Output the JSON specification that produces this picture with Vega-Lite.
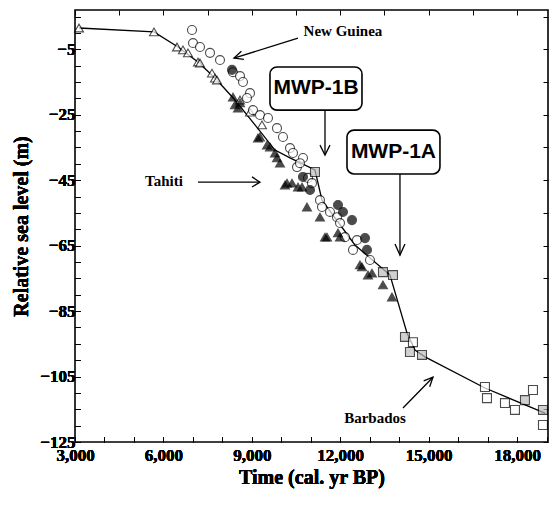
{
  "$schema": "https://vega.github.io/schema/vega-lite/v6.json",
  "width": 473,
  "height": 432,
  "autosize": {"type": "none"},
  "padding": {"left": 75, "top": 10, "right": 2, "bottom": 64},
  "background": "white",
  "config": {
    "view": {"stroke": "black", "strokeWidth": 1.6},
    "axis": {
      "labelFont": "Liberation Serif", "labelFontWeight": "bold", "labelFontSize": 17, "labelColor": "black",
      "titleFont": "Liberation Serif", "titleFontWeight": "bold", "titleFontSize": 20, "titleColor": "black",
      "domain": false, "grid": false, "tickColor": "black", "tickWidth": 1
    }
  },
  "datasets": {
    "pts": [
      {"t": 3136, "v": 1.5, "s": "open-tri"},
      {"t": 5680, "v": 0.3, "s": "open-tri"},
      {"t": 6461, "v": -4.3, "s": "open-tri"},
      {"t": 6664, "v": -5.2, "s": "open-tri"},
      {"t": 6834, "v": -6.1, "s": "open-tri"},
      {"t": 7173, "v": -8.9, "s": "open-tri"},
      {"t": 7241, "v": -9.2, "s": "open-tri"},
      {"t": 7648, "v": -12.3, "s": "open-tri"},
      {"t": 7750, "v": -13.8, "s": "open-tri"},
      {"t": 7818, "v": -14.4, "s": "open-tri"},
      {"t": 8599, "v": -20.5, "s": "open-tri"},
      {"t": 8938, "v": -24.2, "s": "open-tri"},
      {"t": 9345, "v": -28.1, "s": "open-tri"},
      {"t": 6970, "v": 0.9, "s": "open-circ"},
      {"t": 7004, "v": -3.1, "s": "open-circ"},
      {"t": 7241, "v": -4.3, "s": "open-circ"},
      {"t": 7581, "v": -6.1, "s": "open-circ"},
      {"t": 7920, "v": -8.3, "s": "open-circ"},
      {"t": 8361, "v": -12.0, "s": "open-circ"},
      {"t": 8599, "v": -13.2, "s": "open-circ"},
      {"t": 8700, "v": -15.0, "s": "open-circ"},
      {"t": 8938, "v": -18.4, "s": "open-circ"},
      {"t": 8836, "v": -19.9, "s": "open-circ"},
      {"t": 9040, "v": -23.6, "s": "open-circ"},
      {"t": 9277, "v": -25.1, "s": "open-circ"},
      {"t": 9549, "v": -26.0, "s": "open-circ"},
      {"t": 9854, "v": -29.1, "s": "open-circ"},
      {"t": 10057, "v": -31.8, "s": "open-circ"},
      {"t": 10295, "v": -35.2, "s": "open-circ"},
      {"t": 10397, "v": -36.7, "s": "open-circ"},
      {"t": 10533, "v": -41.0, "s": "open-circ"},
      {"t": 10736, "v": -38.2, "s": "open-circ"},
      {"t": 10634, "v": -39.8, "s": "open-circ"},
      {"t": 10906, "v": -44.3, "s": "open-circ"},
      {"t": 11041, "v": -45.9, "s": "open-circ"},
      {"t": 11313, "v": -51.1, "s": "open-circ"},
      {"t": 11381, "v": -53.2, "s": "open-circ"},
      {"t": 11652, "v": -54.7, "s": "open-circ"},
      {"t": 11890, "v": -56.3, "s": "open-circ"},
      {"t": 11992, "v": -58.1, "s": "open-circ"},
      {"t": 12161, "v": -62.4, "s": "open-circ"},
      {"t": 12433, "v": -66.3, "s": "open-circ"},
      {"t": 12568, "v": -63.3, "s": "open-circ"},
      {"t": 13009, "v": -69.4, "s": "open-circ"},
      {"t": 8327, "v": -11.3, "s": "fill-circ"},
      {"t": 10736, "v": -44.0, "s": "fill-circ"},
      {"t": 10974, "v": -48.0, "s": "fill-circ"},
      {"t": 11924, "v": -52.6, "s": "fill-circ"},
      {"t": 12093, "v": -54.7, "s": "fill-circ"},
      {"t": 12399, "v": -57.2, "s": "fill-circ"},
      {"t": 12840, "v": -62.7, "s": "fill-circ"},
      {"t": 12908, "v": -66.3, "s": "fill-circ"},
      {"t": 8361, "v": -19.6, "s": "fill-tri"},
      {"t": 8599, "v": -21.4, "s": "fill-tri"},
      {"t": 8429, "v": -22.0, "s": "fill-tri"},
      {"t": 8531, "v": -23.0, "s": "fill-tri"},
      {"t": 9209, "v": -32.1, "s": "fill-tri"},
      {"t": 9277, "v": -31.8, "s": "fill-tri"},
      {"t": 9515, "v": -34.3, "s": "fill-tri"},
      {"t": 9617, "v": -34.9, "s": "fill-tri"},
      {"t": 9786, "v": -36.7, "s": "fill-tri"},
      {"t": 9854, "v": -38.2, "s": "fill-tri"},
      {"t": 9956, "v": -39.8, "s": "fill-tri"},
      {"t": 10125, "v": -46.5, "s": "fill-tri"},
      {"t": 10193, "v": -45.9, "s": "fill-tri"},
      {"t": 10363, "v": -45.9, "s": "fill-tri"},
      {"t": 10566, "v": -47.1, "s": "fill-tri"},
      {"t": 10702, "v": -47.1, "s": "fill-tri"},
      {"t": 10872, "v": -53.2, "s": "fill-tri"},
      {"t": 11313, "v": -56.3, "s": "fill-tri"},
      {"t": 11483, "v": -62.4, "s": "fill-tri"},
      {"t": 11551, "v": -62.4, "s": "fill-tri"},
      {"t": 11924, "v": -61.1, "s": "fill-tri"},
      {"t": 11992, "v": -62.4, "s": "fill-tri"},
      {"t": 12670, "v": -70.9, "s": "fill-tri"},
      {"t": 12738, "v": -71.5, "s": "fill-tri"},
      {"t": 12942, "v": -74.0, "s": "fill-tri"},
      {"t": 13077, "v": -73.4, "s": "fill-tri"},
      {"t": 13450, "v": -77.0, "s": "fill-tri"},
      {"t": 13756, "v": -80.7, "s": "fill-tri"},
      {"t": 11143, "v": -42.5, "s": "grey-sq"},
      {"t": 13450, "v": -73.1, "s": "grey-sq"},
      {"t": 13790, "v": -74.0, "s": "grey-sq"},
      {"t": 14197, "v": -92.9, "s": "grey-sq"},
      {"t": 14468, "v": -94.5, "s": "open-sq"},
      {"t": 14366, "v": -97.5, "s": "grey-sq"},
      {"t": 14774, "v": -98.4, "s": "grey-sq"},
      {"t": 18268, "v": -112.2, "s": "grey-sq"},
      {"t": 18879, "v": -115.2, "s": "grey-sq"},
      {"t": 16911, "v": -108.2, "s": "open-sq"},
      {"t": 16979, "v": -111.6, "s": "open-sq"},
      {"t": 17590, "v": -113.1, "s": "open-sq"},
      {"t": 17929, "v": -115.2, "s": "open-sq"},
      {"t": 18540, "v": -109.1, "s": "open-sq"},
      {"t": 18879, "v": -119.8, "s": "open-sq"}
    ],
    "curve": [
      {"t": 3136, "v": 1.5},
      {"t": 5680, "v": 0.3},
      {"t": 6495, "v": -4.3},
      {"t": 7173, "v": -8.9},
      {"t": 7750, "v": -13.8},
      {"t": 8429, "v": -20.5},
      {"t": 9107, "v": -28.1},
      {"t": 9786, "v": -35.8},
      {"t": 10295, "v": -38.2},
      {"t": 11143, "v": -41.9},
      {"t": 11381, "v": -51.1},
      {"t": 12500, "v": -64.8},
      {"t": 13688, "v": -74.0},
      {"t": 14265, "v": -91.7},
      {"t": 14536, "v": -96.9},
      {"t": 14876, "v": -99.0},
      {"t": 16911, "v": -108.5},
      {"t": 18947, "v": -116.2}
    ],
    "arrows": [
      {"id": "ng", "k": 0, "t": 10566, "v": -1.6},
      {"id": "ng", "k": 1, "t": 8395, "v": -7.7},
      {"id": "ngh", "k": 0, "t": 8731, "v": -8.1},
      {"id": "ngh", "k": 1, "t": 8395, "v": -7.7},
      {"id": "ngh", "k": 2, "t": 8646, "v": -5.6},
      {"id": "ta", "k": 0, "t": 7173, "v": -45.6},
      {"id": "ta", "k": 1, "t": 9277, "v": -45.6},
      {"id": "tah", "k": 0, "t": 9006, "v": -44.0},
      {"id": "tah", "k": 1, "t": 9277, "v": -45.6},
      {"id": "tah", "k": 2, "t": 9006, "v": -47.1},
      {"id": "ba", "k": 0, "t": 14129, "v": -114.6},
      {"id": "ba", "k": 1, "t": 15147, "v": -105.2},
      {"id": "bah", "k": 0, "t": 14831, "v": -106.3},
      {"id": "bah", "k": 1, "t": 15147, "v": -105.2},
      {"id": "bah", "k": 2, "t": 15035, "v": -108.1},
      {"id": "b1", "k": 0, "t": 11483, "v": -23.6},
      {"id": "b1", "k": 1, "t": 11483, "v": -37.3},
      {"id": "b1h", "k": 0, "t": 11313, "v": -34.3},
      {"id": "b1h", "k": 1, "t": 11483, "v": -37.3},
      {"id": "b1h", "k": 2, "t": 11652, "v": -34.3},
      {"id": "a1", "k": 0, "t": 14027, "v": -43.1},
      {"id": "a1", "k": 1, "t": 14027, "v": -67.9},
      {"id": "a1h", "k": 0, "t": 13858, "v": -64.5},
      {"id": "a1h", "k": 1, "t": 14027, "v": -67.9},
      {"id": "a1h", "k": 2, "t": 14197, "v": -64.5}
    ],
    "boxes": [
      {"t": 9616, "t2": 12738, "v": -10.4, "v2": -23.6},
      {"t": 12229, "t2": 15384, "v": -29.7, "v2": -43.1}
    ],
    "boxtext": [
      {"t": 11177, "v": -16.9, "text": "MWP-1B"},
      {"t": 13806, "v": -36.4, "text": "MWP-1A"}
    ],
    "labels": [
      {"t": 12093, "v": 0.6, "text": "New Guinea"},
      {"t": 6020, "v": -45.3, "text": "Tahiti"},
      {"t": 13179, "v": -117.7, "text": "Barbados"}
    ]
  },
  "encoding": {
    "x": {"field": "t", "type": "quantitative",
      "scale": {"domain": [3000, 19050], "nice": false, "zero": false},
      "axis": {"orient": "bottom", "title": "Time (cal. yr BP)", "values": [3000, 4000, 5000, 6000, 7000, 8000, 9000, 10000, 11000, 12000, 13000, 14000, 15000, 16000, 17000, 18000, 19000],
        "labelExpr": "datum.value % 3000 == 0 ? format(datum.value, ',') : ''", "tickSize": -5, "labelPadding": 10, "titlePadding": 4, "labelFlush": false, "labelOverlap": false}},
    "y": {"field": "v", "type": "quantitative",
      "scale": {"domain": [-125, 7], "nice": false, "zero": false},
      "axis": {"orient": "left", "title": "Relative sea level (m)", "values": [-125, -120, -115, -110, -105, -100, -95, -90, -85, -80, -75, -70, -65, -60, -55, -50, -45, -40, -35, -30, -25, -20, -15, -10, -5, 0, 5],
        "labelExpr": "(datum.value + 5) % 20 == 0 ? datum.label : ''", "tickSize": -5, "labelPadding": 5, "titlePadding": 8, "labelFlush": false, "labelOverlap": false}}
  },
  "layer": [
    {
      "data": {"name": "curve"},
      "mark": {"type": "line", "color": "black", "strokeWidth": 1.3}
    },
    {
      "data": {"name": "arrows"},
      "mark": {"type": "line", "color": "black", "strokeWidth": 1.3},
      "encoding": {
        "x": {"field": "t", "type": "quantitative",
          "axis": {"orient": "top", "title": null, "labels": false, "tickSize": -5, "values": [3000, 4500, 6000, 7500, 9000, 10500, 12000, 13500, 15000, 16500, 18000]}},
        "y": {"field": "v", "type": "quantitative",
          "axis": {"orient": "right", "title": null, "labels": false, "tickSize": -5, "values": [-125, -115, -105, -95, -85, -75, -65, -55, -45, -35, -25, -15, -5, 5]}},
        "detail": {"field": "id"},
        "order": {"field": "k"}
      }
    },
    {
      "data": {"name": "pts"},
      "mark": {"type": "point", "filled": true, "stroke": "black", "strokeWidth": 1.1, "size": 80},
      "encoding": {
        "shape": {"field": "s", "type": "nominal", "legend": null,
          "scale": {"domain": ["open-tri", "fill-tri", "open-circ", "fill-circ", "open-sq", "grey-sq"],
            "range": ["triangle-up", "triangle-up", "circle", "circle", "square", "square"]}},
        "fill": {"field": "s", "type": "nominal", "legend": null,
          "scale": {"domain": ["open-tri", "fill-tri", "open-circ", "fill-circ", "open-sq", "grey-sq"],
            "range": ["white", "black", "white", "black", "white", "#bdbdbd"]}}
      }
    },
    {
      "data": {"name": "boxes"},
      "mark": {"type": "rect", "fill": "white", "stroke": "black", "strokeWidth": 1.6, "cornerRadius": 7},
      "encoding": {
        "x2": {"field": "t2"},
        "y2": {"field": "v2"}
      }
    },
    {
      "data": {"name": "boxtext"},
      "mark": {"type": "text", "font": "Liberation Sans", "fontWeight": "bold", "fontSize": 21, "color": "black", "align": "center", "baseline": "middle"},
      "encoding": {
        "text": {"field": "text"}
      }
    },
    {
      "data": {"name": "labels"},
      "mark": {"type": "text", "font": "Liberation Serif", "fontWeight": "bold", "fontSize": 15, "color": "black", "align": "center", "baseline": "middle"},
      "encoding": {
        "text": {"field": "text"}
      }
    }
  ]
}
